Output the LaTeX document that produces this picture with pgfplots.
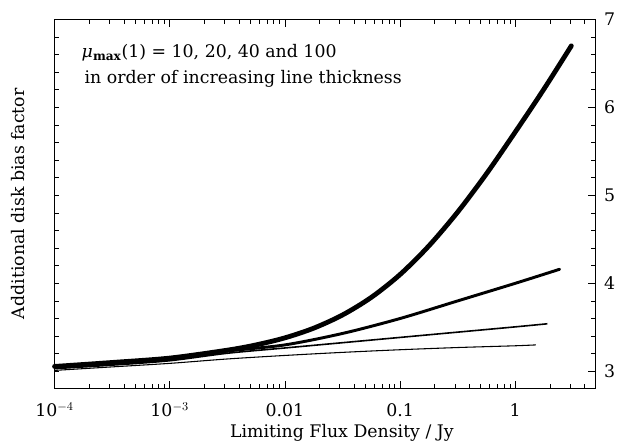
\documentclass[border=0pt]{standalone}
\usepackage{fontspec}
\setmainfont{DejaVu Serif}
\usepackage{pgfplots}
\pgfplotsset{compat=1.18}

% disk bias factor vs limiting flux density (x in Jy)
\pgfplotstableread{
x        y
1e-4     3.055
3.162e-4 3.10
1e-3     3.15
3.162e-3 3.24
5.623e-3 3.30
0.01     3.38
0.01778  3.49
0.03162  3.64
0.05623  3.84
0.1      4.10
0.1778   4.425
0.3162   4.81
0.5623   5.245
1        5.72
1.778    6.21
3.07     6.70
}\muhundred
\pgfplotstableread{
x        y
1e-4     3.045
3.162e-4 3.09
1e-3     3.14
3.162e-3 3.23
0.01     3.30
0.03162  3.43
0.1      3.60
0.3162   3.80
1        4.00
2.43     4.16
}\mufourty
\pgfplotstableread{
x        y
1e-4     3.03
3.162e-4 3.07
1e-3     3.12
3.162e-3 3.205
0.01     3.265
0.03162  3.325
0.1      3.385
0.3162   3.445
1        3.505
1.90     3.54
}\mutwenty
\pgfplotstableread{
x        y
1e-4     3.01
3.162e-4 3.05
1e-3     3.09
3.162e-3 3.14
0.01     3.18
0.03162  3.215
0.1      3.245
0.3162   3.27
1        3.29
1.51     3.30
}\muten

\begin{document}
\begin{tikzpicture}
\useasboundingbox (-40.9pt,-39.75pt) rectangle (424.1pt,291pt);
\pgfplotsset{every axis/.append style={font=\fontsize{13}{15.5}\selectfont}}
\begin{axis}[
    scale only axis,
    width=405.9pt, height=276.4pt,
    xmode=log,
    xmin=1e-4, xmax=5,
    ymin=2.81, ymax=7,
    xtick={1e-4,1e-3,1e-2,1e-1,1},
    xticklabels={10$^{-4}$,10$^{-3}$,0.01,0.1,1},
    minor xtick={2e-4,3e-4,4e-4,5e-4,6e-4,7e-4,8e-4,9e-4,
                 2e-3,3e-3,4e-3,5e-3,6e-3,7e-3,8e-3,9e-3,
                 0.02,0.03,0.04,0.05,0.06,0.07,0.08,0.09,
                 0.2,0.3,0.4,0.5,0.6,0.7,0.8,0.9,2,3,4,5},
    ytick={3,4,5,6,7},
    minor ytick={3.2,3.4,3.6,3.8,4.2,4.4,4.6,4.8,5.2,5.4,5.6,5.8,6.2,6.4,6.6,6.8},
    ytick pos=right,
    yticklabel pos=right,
    tick align=inside,
    major tick length=5.5pt,
    minor tick length=3.2pt,
    every tick/.style={black,line width=0.5pt},
    axis line style={line width=0.7pt},
    /pgf/number format/assume math mode=true,
    xticklabel style={anchor=base,yshift=-21.5pt},
    yticklabel style={anchor=center,xshift=10.5pt},
    xlabel={Limiting Flux Density / Jy},
    xlabel style={at={(axis description cs:0.531,0)},anchor=base,yshift=-37.5pt},
    clip=false,
]
\addplot[black, line width=0.8pt, smooth] table[x=x,y=y] {\muten};
\addplot[black, line width=1.2pt, smooth] table[x=x,y=y] {\mutwenty};
\addplot[black, line width=2.2pt, smooth, line cap=round] table[x=x,y=y] {\mufourty};
\addplot[black, line width=3.6pt, smooth, line cap=round] table[x=x,y=y] {\muhundred};
\node[anchor=base west] at (axis description cs:0.0416,0.8955)
    {{\itshape μ}\textsubscript{\bfseries max}(1) = 10, 20, 40 and 100};
\node[anchor=base west] at (axis description cs:0.047,0.827)
    {in order of increasing line thickness};
\end{axis}
\begin{axis}[
    scale only axis,
    width=405.9pt, height=276.4pt,
    axis x line=none,
    axis y line*=left,
    xmin=0, xmax=1,
    ymin=2.81, ymax=7,
    ytick={3,3.2,...,7},
    yticklabels={},
    tick align=inside,
    major tick length=3.2pt,
    every tick/.style={black,line width=0.5pt},
    axis line style={line width=0.7pt},
    ylabel={Additional disk bias factor},
    ylabel style={at={(axis description cs:-0.0675,0.5)},anchor=center},
]
\end{axis}
\end{tikzpicture}
\end{document}
